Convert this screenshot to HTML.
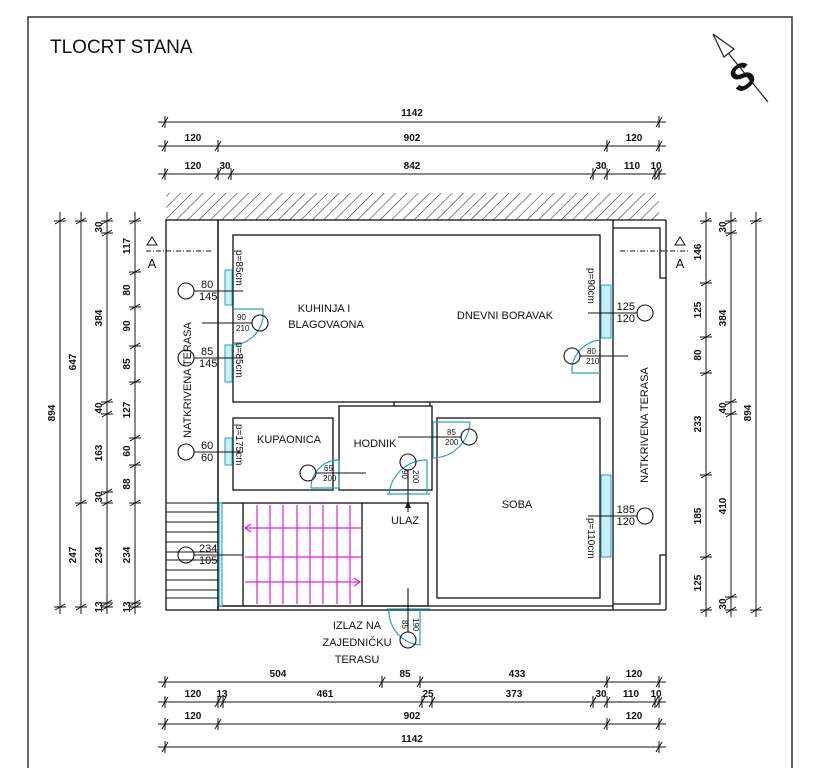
<!DOCTYPE html>
<html><head><meta charset="utf-8"><style>
html,body{margin:0;padding:0;background:#fff}
svg{display:block}
text{font-family:"Liberation Sans",sans-serif;fill:#111}
.d{font-size:10px;font-weight:bold}
.r{font-size:11px}
.s{font-size:8px}
.n{font-size:11px}
</style></head><body>
<svg width="821" height="768" viewBox="0 0 821 768" xmlns="http://www.w3.org/2000/svg">
<defs>
<pattern id="hatch" width="8" height="8" patternUnits="userSpaceOnUse" patternTransform="rotate(45)">
<line x1="0" y1="0" x2="0" y2="8" stroke="#222" stroke-width="1.1"/></pattern>
<g id="th" stroke="#111" stroke-width="1"><line x1="-3" y1="5" x2="3" y2="-5"/><line x1="0" y1="-6" x2="0" y2="6"/></g>
<g id="tv" stroke="#111" stroke-width="1"><line x1="-5" y1="3" x2="5" y2="-3"/><line x1="-6" y1="0" x2="6" y2="0"/></g>
</defs>
<!-- border -->
<polyline points="28,768 28,17 792,17 792,768" fill="none" stroke="#333" stroke-width="1.5"/>
<text x="50" y="53" style="font-size:19px">TLOCRT STANA</text>
<!-- north arrow -->
<line x1="716" y1="38" x2="768" y2="102" stroke="#222" stroke-width="1.2"/>
<polygon points="713,34 734,49 724,57" fill="#fff" stroke="#222" stroke-width="1.2"/>
<text transform="translate(749,87) rotate(-35)" text-anchor="middle" style="font-size:36px;font-weight:bold;font-style:italic">S</text>

<g stroke="#111" stroke-width="1" fill="none">
<line x1="158" y1="122" x2="666" y2="122"/>
<line x1="158" y1="146" x2="666" y2="146"/>
<line x1="158" y1="174" x2="666" y2="174"/>
<line x1="158" y1="682" x2="666" y2="682"/>
<line x1="158" y1="702" x2="666" y2="702"/>
<line x1="158" y1="724" x2="666" y2="724"/>
<line x1="158" y1="747" x2="666" y2="747"/>
<line x1="135" y1="212" x2="135" y2="614"/>
<line x1="107" y1="212" x2="107" y2="614"/>
<line x1="81" y1="212" x2="81" y2="614"/>
<line x1="60" y1="212" x2="60" y2="614"/>
<line x1="706" y1="212" x2="706" y2="617"/>
<line x1="731" y1="212" x2="731" y2="617"/>
<line x1="756" y1="212" x2="756" y2="617"/>
</g>
<g>
<use href="#th" x="165" y="122"/><use href="#th" x="659" y="122"/>
<use href="#th" x="165" y="146"/><use href="#th" x="218" y="146"/><use href="#th" x="607" y="146"/><use href="#th" x="659" y="146"/>
<use href="#th" x="165" y="174"/><use href="#th" x="218" y="174"/><use href="#th" x="231" y="174"/><use href="#th" x="593" y="174"/><use href="#th" x="607" y="174"/><use href="#th" x="655" y="174"/><use href="#th" x="659" y="174"/>
<use href="#th" x="165" y="682"/><use href="#th" x="382" y="682"/><use href="#th" x="420" y="682"/><use href="#th" x="607" y="682"/><use href="#th" x="659" y="682"/>
<use href="#th" x="165" y="702"/><use href="#th" x="218" y="702"/><use href="#th" x="223" y="702"/><use href="#th" x="422" y="702"/><use href="#th" x="432" y="702"/><use href="#th" x="593" y="702"/><use href="#th" x="607" y="702"/><use href="#th" x="655" y="702"/><use href="#th" x="659" y="702"/>
<use href="#th" x="165" y="724"/><use href="#th" x="218" y="724"/><use href="#th" x="607" y="724"/><use href="#th" x="659" y="724"/>
<use href="#th" x="165" y="747"/><use href="#th" x="659" y="747"/>

<use href="#tv" x="135" y="221"/><use href="#tv" x="135" y="272"/><use href="#tv" x="135" y="307"/><use href="#tv" x="135" y="346"/><use href="#tv" x="135" y="382"/><use href="#tv" x="135" y="438"/><use href="#tv" x="135" y="465"/><use href="#tv" x="135" y="503"/><use href="#tv" x="135" y="603"/><use href="#tv" x="135" y="607"/>
<use href="#tv" x="107" y="221"/><use href="#tv" x="107" y="233"/><use href="#tv" x="107" y="402"/><use href="#tv" x="107" y="414"/><use href="#tv" x="107" y="492"/><use href="#tv" x="107" y="503"/><use href="#tv" x="107" y="603"/><use href="#tv" x="107" y="607"/>
<use href="#tv" x="81" y="221"/><use href="#tv" x="81" y="503"/><use href="#tv" x="81" y="607"/>
<use href="#tv" x="60" y="221"/><use href="#tv" x="60" y="607"/>
<use href="#tv" x="706" y="221"/><use href="#tv" x="706" y="283"/><use href="#tv" x="706" y="337"/><use href="#tv" x="706" y="373"/><use href="#tv" x="706" y="475"/><use href="#tv" x="706" y="557"/><use href="#tv" x="706" y="610"/>
<use href="#tv" x="731" y="221"/><use href="#tv" x="731" y="233"/><use href="#tv" x="731" y="402"/><use href="#tv" x="731" y="414"/><use href="#tv" x="731" y="597"/><use href="#tv" x="731" y="610"/>
<use href="#tv" x="756" y="221"/><use href="#tv" x="756" y="610"/>
</g>
<g class="d" text-anchor="middle">
<text x="412" y="116" class="d">1142</text>
<text x="193" y="141" class="d">120</text><text x="412" y="141" class="d">902</text><text x="634" y="141" class="d">120</text>
<text x="193" y="169" class="d">120</text><text x="225" y="169" class="d">30</text><text x="412" y="169" class="d">842</text><text x="601" y="169" class="d">30</text><text x="632" y="169" class="d">110</text><text x="656" y="169" class="d">10</text>
<text x="278" y="677" class="d">504</text><text x="405" y="677" class="d">85</text><text x="517" y="677" class="d">433</text><text x="634" y="677" class="d">120</text>
<text x="193" y="697" class="d">120</text><text x="222" y="697" class="d">13</text><text x="325" y="697" class="d">461</text><text x="428" y="697" class="d">25</text><text x="514" y="697" class="d">373</text><text x="601" y="697" class="d">30</text><text x="631" y="697" class="d">110</text><text x="656" y="697" class="d">10</text>
<text x="193" y="719" class="d">120</text><text x="412" y="719" class="d">902</text><text x="634" y="719" class="d">120</text>
<text x="412" y="742" class="d">1142</text>
</g>
<g class="d" text-anchor="middle">
<text class="d" transform="translate(130,246) rotate(-90)">117</text>
<text class="d" transform="translate(130,290) rotate(-90)">80</text>
<text class="d" transform="translate(130,326) rotate(-90)">90</text>
<text class="d" transform="translate(130,364) rotate(-90)">85</text>
<text class="d" transform="translate(130,410) rotate(-90)">127</text>
<text class="d" transform="translate(130,451) rotate(-90)">60</text>
<text class="d" transform="translate(130,484) rotate(-90)">88</text>
<text class="d" transform="translate(130,555) rotate(-90)">234</text>
<text class="d" transform="translate(130,607) rotate(-90)">13</text>
<text class="d" transform="translate(102,227) rotate(-90)">30</text>
<text class="d" transform="translate(102,318) rotate(-90)">384</text>
<text class="d" transform="translate(102,408) rotate(-90)">40</text>
<text class="d" transform="translate(102,453) rotate(-90)">163</text>
<text class="d" transform="translate(102,497) rotate(-90)">30</text>
<text class="d" transform="translate(102,555) rotate(-90)">234</text>
<text class="d" transform="translate(102,607) rotate(-90)">13</text>
<text class="d" transform="translate(76,362) rotate(-90)">647</text>
<text class="d" transform="translate(76,555) rotate(-90)">247</text>
<text class="d" transform="translate(55,413) rotate(-90)">894</text>
<text class="d" transform="translate(701,252) rotate(-90)">146</text>
<text class="d" transform="translate(701,310) rotate(-90)">125</text>
<text class="d" transform="translate(701,355) rotate(-90)">80</text>
<text class="d" transform="translate(701,424) rotate(-90)">233</text>
<text class="d" transform="translate(701,516) rotate(-90)">185</text>
<text class="d" transform="translate(701,583) rotate(-90)">125</text>
<text class="d" transform="translate(726,227) rotate(-90)">30</text>
<text class="d" transform="translate(726,318) rotate(-90)">384</text>
<text class="d" transform="translate(726,408) rotate(-90)">40</text>
<text class="d" transform="translate(726,506) rotate(-90)">410</text>
<text class="d" transform="translate(726,604) rotate(-90)">30</text>
<text class="d" transform="translate(751,413) rotate(-90)">894</text>
</g>

<rect x="166" y="193" width="493" height="27" fill="url(#hatch)"/>
<g stroke="#111" stroke-width="1.3" fill="none">
<rect x="166" y="220" width="52" height="390"/>
<rect x="218" y="220" width="395" height="390"/>
<line x1="218" y1="606" x2="613" y2="606"/>
<polyline points="613,228 660,228 660,278 666,278"/>
<polyline points="666,555 660,555 660,604 613,604"/>
<line x1="666" y1="220" x2="666" y2="610"/>
<line x1="613" y1="220" x2="666" y2="220"/>
<line x1="613" y1="610" x2="666" y2="610"/>
<rect x="233" y="235" width="367" height="167"/>
<rect x="233" y="418" width="100" height="72"/>
<rect x="339" y="406" width="93" height="84"/>
<rect x="437" y="418" width="163" height="180"/>
<line x1="394" y1="402" x2="394" y2="406"/><line x1="430" y1="402" x2="430" y2="406"/>
<rect x="220" y="503" width="208" height="103"/>
<line x1="243" y1="503" x2="243" y2="606"/>
<line x1="362" y1="503" x2="362" y2="606"/>
</g>
<g stroke="#111" stroke-width="1">
<line x1="166" y1="503" x2="218" y2="503"/><line x1="166" y1="512" x2="218" y2="512"/><line x1="166" y1="522" x2="218" y2="522"/><line x1="166" y1="532" x2="218" y2="532"/><line x1="166" y1="542" x2="218" y2="542"/><line x1="166" y1="552" x2="218" y2="552"/><line x1="166" y1="560" x2="218" y2="560"/><line x1="166" y1="570" x2="218" y2="570"/><line x1="166" y1="580" x2="218" y2="580"/><line x1="166" y1="590" x2="218" y2="590"/><line x1="166" y1="598" x2="218" y2="598"/>
</g>
<g stroke="#e020e0" stroke-width="1.2" fill="none">
<line x1="257" y1="505" x2="257" y2="604"/><line x1="270" y1="505" x2="270" y2="604"/><line x1="283" y1="505" x2="283" y2="604"/><line x1="297" y1="505" x2="297" y2="604"/><line x1="310" y1="505" x2="310" y2="604"/><line x1="323" y1="505" x2="323" y2="604"/><line x1="337" y1="505" x2="337" y2="604"/><line x1="350" y1="505" x2="350" y2="604"/>
<line x1="245" y1="528" x2="362" y2="528"/><line x1="245" y1="557" x2="362" y2="557"/><line x1="245" y1="582" x2="360" y2="582"/>
<polyline points="251,524 245,528 251,532"/><polyline points="354,578 360,582 354,586"/>
</g>
<g fill="#c8f0f6" stroke="#2aa0c0" stroke-width="1">
<rect x="225" y="270" width="7" height="35"/><rect x="225" y="345" width="7" height="37"/><rect x="225" y="438" width="7" height="27"/>
<rect x="219" y="503" width="3" height="103"/>
<rect x="601" y="285" width="10" height="53"/><rect x="601" y="475" width="10" height="82"/>
</g>
<g stroke="#2aa0c0" stroke-width="1.2" fill="none">
<polyline points="233,309 263,309 263,318"/><path d="M263,318 A32,32 0 0 1 233,345"/>
<polyline points="600,373 572,373 572,366"/><path d="M572,366 A32,32 0 0 1 600,340"/>
<polyline points="433,458 433,422 470,422"/><path d="M470,422 A38,38 0 0 1 433,458"/>
<polyline points="339,460 339,488 311,488"/><path d="M311,488 A28,28 0 0 1 339,460"/>
<polyline points="427,493 427,460"/><path d="M427,460 A38,38 0 0 0 389,494"/><line x1="387" y1="494" x2="430" y2="494"/>
<polyline points="420,610 420,645"/><path d="M420,645 A34,34 0 0 1 389,610"/><line x1="387" y1="609" x2="430" y2="609"/>
</g>
<g stroke="#111" stroke-width="1.1" fill="none">
<circle cx="186" cy="291" r="8"/><line x1="194" y1="291" x2="243" y2="291"/>
<circle cx="186" cy="358" r="8"/><line x1="194" y1="358" x2="243" y2="358"/>
<circle cx="186" cy="452" r="8"/><line x1="194" y1="452" x2="243" y2="452"/>
<circle cx="186" cy="555" r="8"/><line x1="194" y1="555" x2="243" y2="555"/>
<circle cx="260" cy="323" r="8"/><line x1="202" y1="323" x2="252" y2="323"/>
<circle cx="645" cy="313" r="8"/><line x1="588" y1="313" x2="637" y2="313"/>
<circle cx="645" cy="516" r="8"/><line x1="588" y1="516" x2="637" y2="516"/>
<circle cx="572" cy="356" r="8"/><line x1="580" y1="356" x2="628" y2="356"/>
<circle cx="469" cy="437" r="8"/><line x1="398" y1="437" x2="461" y2="437"/>
<circle cx="308" cy="473" r="8"/><line x1="316" y1="473" x2="366" y2="473"/>
<circle cx="408" cy="462" r="8"/><line x1="408" y1="470" x2="408" y2="512"/>
<circle cx="408" cy="640" r="8"/><line x1="408" y1="588" x2="408" y2="632"/>
</g>
<polygon points="405,508 411,508 408,501" fill="#111"/>
<g class="n">
<text x="201" y="288" class="n">80</text><text x="199" y="300" class="n">145</text>
<text x="201" y="355" class="n">85</text><text x="199" y="367" class="n">145</text>
<text x="201" y="449" class="n">60</text><text x="201" y="461" class="n">60</text>
<text x="199" y="552" class="n">234</text><text x="199" y="564" class="n">105</text>
<text x="635" y="310" text-anchor="end" class="n">125</text><text x="635" y="322" text-anchor="end" class="n">120</text>
<text x="635" y="513" text-anchor="end" class="n">185</text><text x="635" y="525" text-anchor="end" class="n">120</text>
</g>
<g class="s">
<text x="237" y="320" class="s">90</text><text x="236" y="331" class="s">210</text>
<text x="587" y="354" class="s">80</text><text x="586" y="364" class="s">210</text>
<text x="447" y="435" class="s">85</text><text x="445" y="445" class="s">200</text>
<text x="324" y="471" class="s">65</text><text x="323" y="481" class="s">200</text>
<text class="s" transform="translate(402,470) rotate(90)">90</text><text class="s" transform="translate(413,470) rotate(90)">200</text>
<text class="s" transform="translate(402,620) rotate(90)">85</text><text class="s" transform="translate(413,618) rotate(90)">190</text>
</g>
<g style="font-size:10px">
<text transform="translate(236,250) rotate(90)">p=85cm</text>
<text transform="translate(236,342) rotate(90)">p=85cm</text>
<text transform="translate(236,424) rotate(90)">p=175cm</text>
<text transform="translate(588,268) rotate(90)">p=90cm</text>
<text transform="translate(588,518) rotate(90)">p=110cm</text>
</g>
<g class="r" text-anchor="middle">
<text x="324" y="312" class="r">KUHINJA I</text>
<text x="326" y="328" class="r">BLAGOVAONA</text>
<text x="505" y="319" class="r">DNEVNI BORAVAK</text>
<text x="289" y="443" class="r">KUPAONICA</text>
<text x="375" y="447" class="r">HODNIK</text>
<text x="517" y="508" class="r">SOBA</text>
<text x="405" y="524" class="r">ULAZ</text>
<text x="357" y="629" class="r">IZLAZ NA</text>
<text x="357" y="646" class="r">ZAJEDNIČKU</text>
<text x="357" y="663" class="r">TERASU</text>
<text transform="translate(191,380) rotate(-90)" class="r">NATKRIVENA TERASA</text>
<text transform="translate(648,425) rotate(-90)" class="r">NATKRIVENA TERASA</text>
</g>
<g stroke="#111" stroke-width="1" fill="none">
<line x1="146" y1="251" x2="212" y2="251" stroke-dasharray="5,2,1,2"/>
<line x1="620" y1="251" x2="688" y2="251" stroke-dasharray="5,2,1,2"/>
<polygon points="152,237 147,245 157,245"/>
<polygon points="680,237 675,245 685,245"/>
</g>
<text x="152" y="268" text-anchor="middle" style="font-size:13px">A</text>
<text x="680" y="268" text-anchor="middle" style="font-size:13px">A</text>
</svg>
</body></html>
